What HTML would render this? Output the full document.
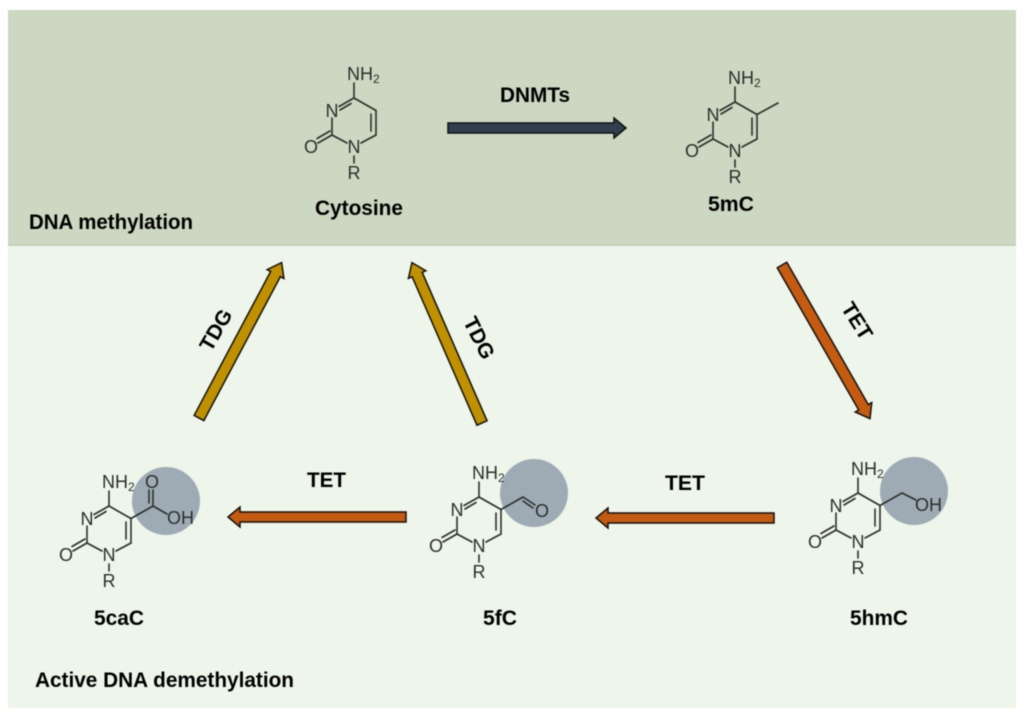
<!DOCTYPE html>
<html>
<head>
<meta charset="utf-8">
<style>
html,body{margin:0;padding:0;background:#fff;width:1024px;height:719px;overflow:hidden}
svg{display:block;filter:blur(0.4px)}
text{font-family:"Liberation Sans",sans-serif}
.b{font-weight:bold;font-size:21px;fill:#000}
.a{font-size:18px;fill:#2a2f2c}
.s{font-size:12px;fill:#2a2f2c}
.m line{stroke:#2a2f2c;stroke-width:1.6;stroke-linecap:round}
.ar{stroke:#111;stroke-width:1.5;stroke-linejoin:miter}
</style>
</head>
<body>
<svg width="1024" height="719" viewBox="0 0 1024 719" xmlns="http://www.w3.org/2000/svg">
<rect x="8" y="245" width="1008" height="463" fill="#eef5ea"/>
<rect x="8" y="10" width="1008" height="235" fill="#ccd8c1"/>
<rect x="8" y="244" width="1008" height="2" fill="#c3d0b8"/>

<circle cx="166" cy="501" r="34" fill="#9eabb5"/>
<circle cx="534" cy="493" r="34" fill="#9eabb5"/>
<circle cx="914" cy="491" r="34" fill="#9eabb5"/>

<!-- Cytosine -->
<g class="m" transform="translate(354,98)">
<line x1="0" y1="0" x2="0" y2="-15"/><line x1="0" y1="0" x2="-15" y2="8.5"/><line x1="-3" y1="5.5" x2="-14" y2="12"/>
<line x1="0" y1="0" x2="22" y2="12.5"/><line x1="22" y1="12.5" x2="22" y2="37"/><line x1="17" y1="16" x2="17" y2="33"/>
<line x1="22" y1="37" x2="7" y2="45"/><line x1="-7" y1="45" x2="-22" y2="37"/><line x1="-22" y1="37" x2="-22" y2="20"/>
<line x1="-22" y1="37" x2="-36" y2="45"/><line x1="-24" y1="33" x2="-37" y2="40.500"/><line x1="0" y1="58" x2="0" y2="65"/>
<text class="a" x="-7" y="-18">NH<tspan class="s" dy="3">2</tspan></text>
<text class="a" x="-22" y="19" text-anchor="middle">N</text>
<text class="a" x="0" y="55" text-anchor="middle">N</text>
<text class="a" x="-43" y="55" text-anchor="middle">O</text>
<text class="a" x="0" y="81" text-anchor="middle">R</text>
</g>

<!-- 5mC -->
<g class="m" transform="translate(735,102)">
<line x1="0" y1="0" x2="0" y2="-15"/><line x1="0" y1="0" x2="-15" y2="8.5"/><line x1="-3" y1="5.5" x2="-14" y2="12"/>
<line x1="0" y1="0" x2="22" y2="12.5"/><line x1="22" y1="12.5" x2="22" y2="37"/><line x1="17" y1="16" x2="17" y2="33"/>
<line x1="22" y1="37" x2="7" y2="45"/><line x1="-7" y1="45" x2="-22" y2="37"/><line x1="-22" y1="37" x2="-22" y2="20"/>
<line x1="-22" y1="37" x2="-36" y2="45"/><line x1="-24" y1="33" x2="-37" y2="40.500"/><line x1="0" y1="58" x2="0" y2="65"/>
<line x1="22" y1="12.5" x2="43" y2="1"/>
<text class="a" x="-7" y="-18">NH<tspan class="s" dy="3">2</tspan></text>
<text class="a" x="-22" y="19" text-anchor="middle">N</text>
<text class="a" x="0" y="55" text-anchor="middle">N</text>
<text class="a" x="-43" y="55" text-anchor="middle">O</text>
<text class="a" x="0" y="81" text-anchor="middle">R</text>
</g>

<!-- 5caC -->
<g class="m" transform="translate(109,506)">
<line x1="0" y1="0" x2="0" y2="-15"/><line x1="0" y1="0" x2="-15" y2="8.5"/><line x1="-3" y1="5.5" x2="-14" y2="12"/>
<line x1="0" y1="0" x2="22" y2="12.5"/><line x1="22" y1="12.5" x2="22" y2="37"/><line x1="17" y1="16" x2="17" y2="33"/>
<line x1="22" y1="37" x2="7" y2="45"/><line x1="-7" y1="45" x2="-22" y2="37"/><line x1="-22" y1="37" x2="-22" y2="20"/>
<line x1="-22" y1="37" x2="-36" y2="45"/><line x1="-24" y1="33" x2="-37" y2="40.500"/><line x1="0" y1="58" x2="0" y2="65"/>
<line x1="22" y1="12.5" x2="44" y2="0"/><line x1="44" y1="0" x2="44" y2="-16"/><line x1="40" y1="-3" x2="40" y2="-16"/><line x1="44" y1="0" x2="58" y2="8"/>
<text class="a" x="-7" y="-18">NH<tspan class="s" dy="3">2</tspan></text>
<text class="a" x="-22" y="19" text-anchor="middle">N</text>
<text class="a" x="0" y="55" text-anchor="middle">N</text>
<text class="a" x="-43" y="55" text-anchor="middle">O</text>
<text class="a" x="0" y="81" text-anchor="middle">R</text>
<text class="a" x="43" y="-18" text-anchor="middle">O</text>
<text class="a" x="58" y="18">OH</text>
</g>

<!-- 5fC -->
<g class="m" transform="translate(479,497)">
<line x1="0" y1="0" x2="0" y2="-15"/><line x1="0" y1="0" x2="-15" y2="8.5"/><line x1="-3" y1="5.5" x2="-14" y2="12"/>
<line x1="0" y1="0" x2="22" y2="12.5"/><line x1="22" y1="12.5" x2="22" y2="37"/><line x1="17" y1="16" x2="17" y2="33"/>
<line x1="22" y1="37" x2="7" y2="45"/><line x1="-7" y1="45" x2="-22" y2="37"/><line x1="-22" y1="37" x2="-22" y2="20"/>
<line x1="-22" y1="37" x2="-36" y2="45"/><line x1="-24" y1="33" x2="-37" y2="40.500"/><line x1="0" y1="58" x2="0" y2="65"/>
<line x1="22" y1="12.5" x2="44" y2="0"/><line x1="44" y1="0" x2="56" y2="8"/><line x1="44" y1="4" x2="54" y2="11"/>
<text class="a" x="-7" y="-18">NH<tspan class="s" dy="3">2</tspan></text>
<text class="a" x="-22" y="19" text-anchor="middle">N</text>
<text class="a" x="0" y="55" text-anchor="middle">N</text>
<text class="a" x="-43" y="55" text-anchor="middle">O</text>
<text class="a" x="0" y="81" text-anchor="middle">R</text>
<text class="a" x="63" y="20" text-anchor="middle">O</text>
</g>

<!-- 5hmC -->
<g class="m" transform="translate(858,493)">
<line x1="0" y1="0" x2="0" y2="-15"/><line x1="0" y1="0" x2="-15" y2="8.5"/><line x1="-3" y1="5.5" x2="-14" y2="12"/>
<line x1="0" y1="0" x2="22" y2="12.5"/><line x1="22" y1="12.5" x2="22" y2="37"/><line x1="17" y1="16" x2="17" y2="33"/>
<line x1="22" y1="37" x2="7" y2="45"/><line x1="-7" y1="45" x2="-22" y2="37"/><line x1="-22" y1="37" x2="-22" y2="20"/>
<line x1="-22" y1="37" x2="-36" y2="45"/><line x1="-24" y1="33" x2="-37" y2="40.500"/><line x1="0" y1="58" x2="0" y2="65"/>
<line x1="22" y1="12.5" x2="44" y2="0"/><line x1="44" y1="0" x2="58" y2="7"/>
<text class="a" x="-7" y="-18">NH<tspan class="s" dy="3">2</tspan></text>
<text class="a" x="-22" y="19" text-anchor="middle">N</text>
<text class="a" x="0" y="55" text-anchor="middle">N</text>
<text class="a" x="-43" y="55" text-anchor="middle">O</text>
<text class="a" x="0" y="81" text-anchor="middle">R</text>
<text class="a" x="57" y="18">OH</text>
</g>

<!-- Arrows -->
<polygon class="ar" fill="#333f50" points="448,123 614,123 614,118 626,128 614,138 614,133 448,133"/>
<polygon class="ar" fill="#c55a11" points="406,512 240,512 240,507 228,517 240,527 240,522 406,522"/>
<polygon class="ar" fill="#c55a11" points="774,513 608,513 608,508 596,518 608,528 608,523 774,523"/>
<polygon class="ar" fill="#bf9000" transform="translate(199,418) rotate(-62) " points="0,-5.500 163,-5.500 163,-9.500 176,0 163,9.500 163,5.500 0,5.500"/>
<polygon class="ar" fill="#bf9000" transform="translate(482,423) rotate(-113.6)" points="0,-5.500 162,-5.500 162,-9.500 175,0 162,9.500 162,5.500 0,5.500"/>
<polygon class="ar" fill="#c55a11" transform="translate(782,265) rotate(60.2)" points="0,-5.500 164,-5.500 164,-9.500 177,0 164,9.500 164,5.500 0,5.500"/>

<!-- Labels -->
<text class="b" x="500" y="102" textLength="70" lengthAdjust="spacingAndGlyphs">DNMTs</text>
<text class="b" x="315" y="215" textLength="88" lengthAdjust="spacingAndGlyphs">Cytosine</text>
<text class="b" x="708" y="211" textLength="46" lengthAdjust="spacingAndGlyphs">5mC</text>
<text class="b" x="94" y="625" textLength="50" lengthAdjust="spacingAndGlyphs">5caC</text>
<text class="b" x="483" y="625" textLength="34" lengthAdjust="spacingAndGlyphs">5fC</text>
<text class="b" x="850" y="625" textLength="58" lengthAdjust="spacingAndGlyphs">5hmC</text>
<text class="b" x="307" y="487" textLength="39" lengthAdjust="spacingAndGlyphs">TET</text>
<text class="b" x="665" y="490" textLength="40" lengthAdjust="spacingAndGlyphs">TET</text>
<text class="b" x="29" y="229" textLength="164" lengthAdjust="spacingAndGlyphs">DNA methylation</text>
<text class="b" x="35" y="687" textLength="259" lengthAdjust="spacingAndGlyphs">Active DNA demethylation</text>
<text class="b" text-anchor="middle" transform="translate(216,330) rotate(-60) translate(0,7)">TDG</text>
<text class="b" text-anchor="middle" transform="translate(479,338) rotate(63) translate(0,7)">TDG</text>
<text class="b" text-anchor="middle" transform="translate(857,321) rotate(58) translate(0,7)">TET</text>
</svg>
</body>
</html>
